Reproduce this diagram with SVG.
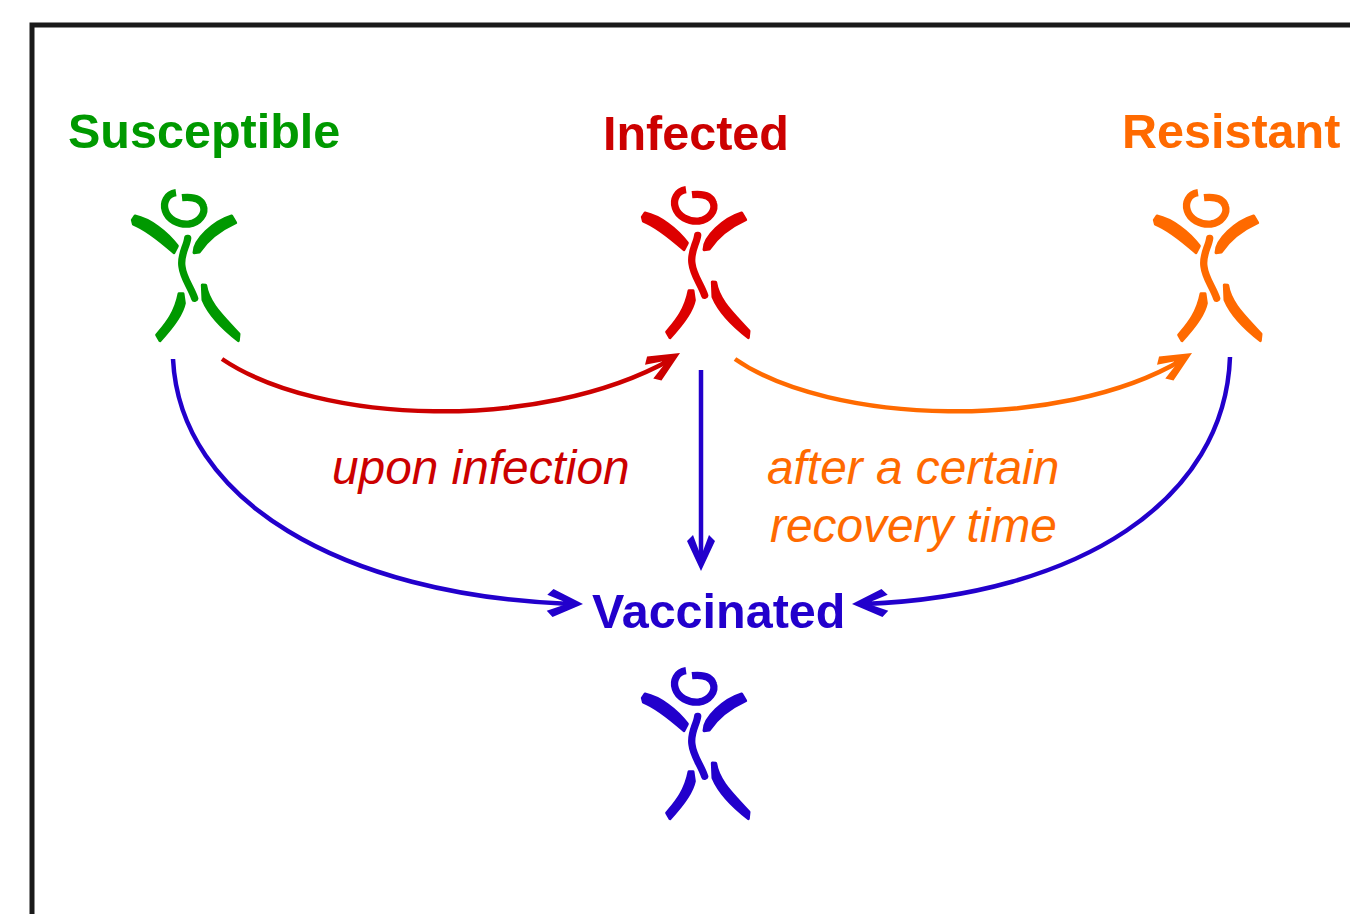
<svg xmlns="http://www.w3.org/2000/svg" width="1350" height="914" viewBox="0 0 1350 914">
<style>
.lbl{font-family:"Liberation Sans",Arial,sans-serif;font-weight:700;font-size:48.5px}
.note{font-family:"Liberation Sans",Arial,sans-serif;font-style:italic;font-size:47.8px}
.c{fill:none;stroke-width:4.5}
.f{fill:currentColor;stroke:currentColor;stroke-width:9;stroke-linejoin:round}
.s{fill:none;stroke:currentColor;stroke-linecap:round}
</style>
<defs>
<path id="arrow" d="M0 0L-30 -14L-36 -8L-20 -2V2L-36 8L-30 14Z"/>
<g id="person" transform="scale(.3333)">
<path fill="none" stroke="currentColor" stroke-width="22" d="M168 38C140 42 128 68 136 92C144 118 175 135 207 132C238 128 258 100 250 78C243 55 215 50 186 53"/>
<path class="f" d="M37 120L45 108C90 118 140 155 172 198L162 218C130 190 85 150 40 132Z"/>
<path class="f" d="M335 108L347 128C310 145 265 175 238 216L222 218C222 180 280 125 335 108Z"/>
<path class="s" stroke-width="22" d="M203 175C200 200 180 225 186 260C190 295 212 320 224 355"/>
<path class="f" d="M177 341L189 341L193 370C185 410 150 450 120 482L110 465C130 440 165 405 177 341Z"/>
<path class="f" d="M247 315L257 316C265 370 310 410 357 462L355 482C320 455 270 410 249 360Z"/>
</g>
</defs>
<rect width="1350" height="914" fill="#fff"/>
<path d="M32 914V25H1350" fill="none" stroke="#1a1a1a" stroke-width="5"/>
<g id="connectors">
<path class="c" stroke="#cc0000" d="M222 359C320 425 540 432 670 360"/>
<use href="#arrow" transform="translate(680 353) rotate(-31)" fill="#cc0000"/>
<path class="c" stroke="#ff6a00" d="M735 359C830 425 1060 432 1182 360"/>
<use href="#arrow" transform="translate(1192 353) rotate(-31)" fill="#ff6a00"/>
<path class="c" stroke="#2200cc" d="M173 359C180 500 340 595 570 604"/>
<use href="#arrow" transform="translate(583 604) rotate(2)" fill="#2200cc"/>
<path class="c" stroke="#2200cc" d="M701 370V555"/>
<use href="#arrow" transform="translate(701 571) rotate(90)" fill="#2200cc"/>
<path class="c" stroke="#2200cc" d="M1230 357C1225 500 1080 595 865 604"/>
<use href="#arrow" transform="translate(852 604) rotate(178)" fill="#2200cc"/>
</g>
<g id="susceptible" style="color:#009900"><text class="lbl" x="68" y="148" fill="#009900">Susceptible</text><use href="#person" x="120" y="180"/></g>
<g id="infected" style="color:#dd0000"><text class="lbl" x="603" y="150" fill="#cc0000">Infected</text><use href="#person" x="630" y="177"/></g>
<g id="resistant" style="color:#ff6a00"><text class="lbl" x="1122" y="148" fill="#ff6a00">Resistant</text><use href="#person" x="1142" y="180"/></g>
<g id="vaccinated" style="color:#2200cc"><text class="lbl" x="592" y="628" fill="#2200cc">Vaccinated</text><use href="#person" x="630" y="658"/></g>
<text class="note" x="332" y="484" fill="#cc0000">upon infection</text>
<text class="note" x="767" y="484" fill="#ff6a00">after a certain</text>
<text class="note" x="770" y="542" fill="#ff6a00">recovery time</text>
</svg>
